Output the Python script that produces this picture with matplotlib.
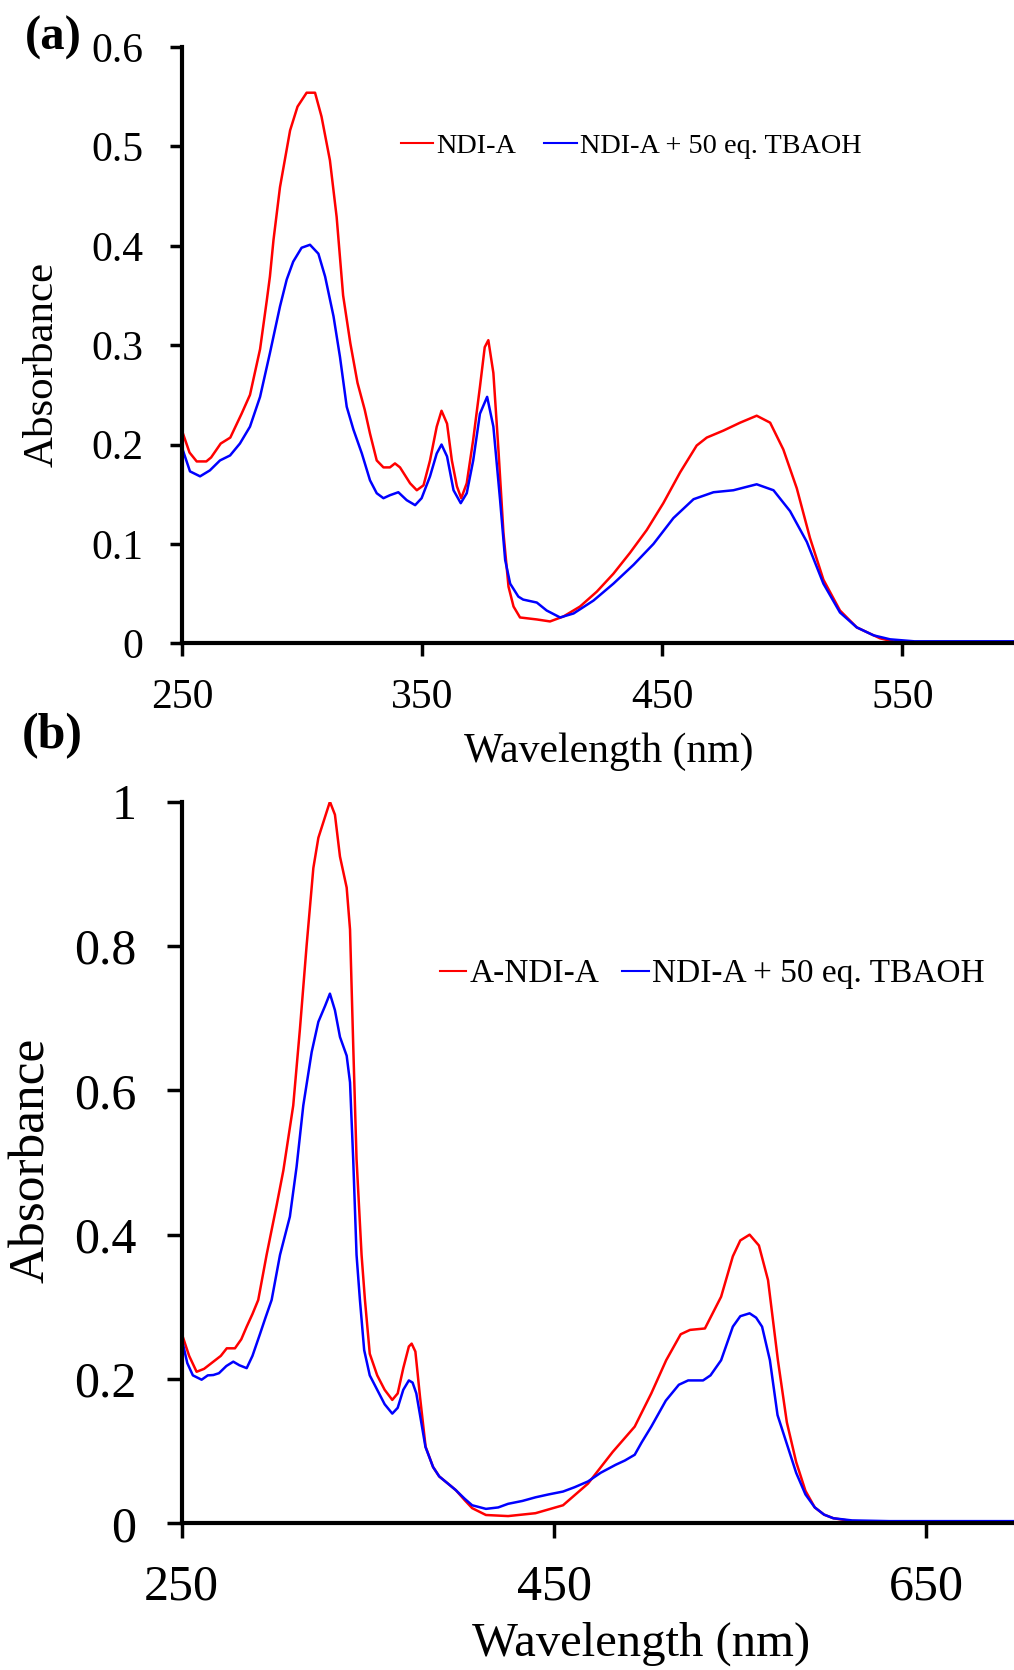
import matplotlib
matplotlib.use('Agg')
import matplotlib.pyplot as plt

plt.rcParams['font.family'] = ['Liberation Serif', 'DejaVu Serif']

# ---- panel (a) : NDI-A ----
wl_a_red = [250, 253, 256, 260, 262, 266, 270, 274.7, 278.2, 282.4, 285.2, 286.5, 288, 290.7,
            294.9, 298, 301.8, 305.3, 308, 311.5, 314.3, 317, 320, 323, 326, 328.2, 331, 333.8,
            336.5, 338.6, 340.7, 344.9, 347.7, 350.5, 353.2, 356, 358, 360.3, 362.3, 364.4,
            366.2, 368.5, 371.2, 374, 376, 377.5, 379.6, 381.7, 383.8, 385.9, 388, 390.7, 397.7,
            403.2, 408.8, 415.7, 422.7, 429.6, 436.5, 443.5, 450.4, 457.4, 464.3, 468.5, 475.4,
            482.4, 489.3, 494.9, 500.4, 506, 511.5, 517.1, 524, 531, 540.7, 547.7, 560, 597]
abs_a_red = [0.213, 0.192, 0.183, 0.183, 0.187, 0.201, 0.207, 0.231, 0.250, 0.296, 0.345, 0.369,
             0.406, 0.459, 0.516, 0.540, 0.554, 0.554, 0.530, 0.486, 0.429, 0.350, 0.302, 0.262,
             0.235, 0.211, 0.184, 0.177, 0.177, 0.181, 0.177, 0.161, 0.154, 0.159, 0.184, 0.218,
             0.234, 0.221, 0.184, 0.158, 0.146, 0.161, 0.205, 0.258, 0.298, 0.305, 0.272, 0.195,
             0.111, 0.057, 0.037, 0.026, 0.024, 0.022, 0.027, 0.037, 0.052, 0.070, 0.091, 0.114,
             0.141, 0.172, 0.199, 0.207, 0.214, 0.222, 0.229, 0.222, 0.195, 0.156, 0.106, 0.064,
             0.033, 0.016, 0.005, 0.001, 0.0, 0.0]

wl_a_blue = [250, 253.2, 257.4, 261.5, 265.7, 269.9, 274, 278.2, 282.4, 286.5, 290.7, 293.5,
             296.2, 299.7, 303.2, 306.7, 309.5, 313, 315.7, 318.5, 321.3, 324.8, 328.2, 331,
             333.8, 336.5, 340, 343.5, 347, 349.7, 353.2, 356, 358, 360.3, 363, 366, 368.5,
             371.2, 374, 377, 379.6, 382.4, 384.5, 386.6, 390, 392, 397.7, 401.8, 407.4, 413,
             421.3, 429.6, 438, 446.3, 454.6, 463, 471.3, 479.6, 489.3, 496.3, 503.2, 510.2,
             517.1, 524, 531, 538, 544.9, 555, 597]
abs_a_blue = [0.196, 0.173, 0.168, 0.174, 0.184, 0.189, 0.201, 0.218, 0.248, 0.292, 0.339, 0.366,
              0.384, 0.398, 0.401, 0.392, 0.369, 0.329, 0.288, 0.238, 0.215, 0.191, 0.164, 0.151,
              0.146, 0.149, 0.152, 0.144, 0.139, 0.146, 0.168, 0.191, 0.200, 0.188, 0.154, 0.141,
              0.151, 0.184, 0.231, 0.248, 0.218, 0.144, 0.084, 0.060, 0.047, 0.044, 0.041, 0.033,
              0.026, 0.030, 0.043, 0.060, 0.079, 0.100, 0.126, 0.145, 0.152, 0.154, 0.160, 0.154,
              0.133, 0.102, 0.060, 0.031, 0.016, 0.008, 0.004, 0.002, 0.002]

# ---- panel (b) : A-NDI-A ----
wl_b_red = [250, 254, 258, 262, 267, 271, 274.2, 278.6, 282, 284.9, 288, 291.1, 295.6, 301,
            304.6, 309.9, 313.5, 317.1, 320.7, 323.4, 326, 329.6, 332.3, 335, 338.6, 340.4,
            342.1, 343.9, 346.6, 348.4, 351, 355, 359, 363.1, 366, 369, 372, 373.5, 375.5, 378,
            381, 385, 388.3, 393, 397.2, 402, 406, 413.4, 425.3, 440, 454.8, 468.2, 481.5, 493.3,
            502.2, 510.2, 518, 523, 531, 539.7, 546, 550, 555, 560, 564.9, 570.2, 575, 580, 585,
            590, 595, 600, 610, 630, 697]
abs_b_red = [0.263, 0.232, 0.210, 0.214, 0.224, 0.232, 0.2425, 0.2425, 0.255, 0.2725, 0.29,
             0.3095, 0.372, 0.441, 0.489, 0.579, 0.685, 0.801, 0.908, 0.950, 0.971, 1.000, 0.982,
             0.924, 0.881, 0.823, 0.664, 0.505, 0.372, 0.310, 0.235, 0.205, 0.185, 0.171, 0.180,
             0.215, 0.245, 0.249, 0.238, 0.175, 0.106, 0.078, 0.065, 0.055, 0.046, 0.032, 0.021,
             0.0115, 0.010, 0.014, 0.025, 0.055, 0.099, 0.134, 0.180, 0.226, 0.262, 0.268, 0.270,
             0.314, 0.370, 0.392, 0.400, 0.385, 0.337, 0.226, 0.140, 0.085, 0.045, 0.022, 0.012,
             0.007, 0.003, 0.002, 0.002]

wl_b_blue = [250, 253, 256, 260.7, 264, 267, 270, 274, 277.7, 281, 284.9, 288, 292, 295, 298.3,
             302.8, 308.1, 311.7, 315.3, 319.8, 323.4, 327, 329.6, 332.3, 335, 338.6, 340.4,
             342.1, 343.9, 345.7, 348, 351, 355, 359, 363.1, 366, 369, 372, 374, 376, 378, 380.9,
             385, 388.3, 393, 397.2, 402, 406, 413.4, 420, 425.3, 433, 440, 447, 454.8, 461,
             468.2, 475, 483, 488, 493.3, 497, 502.2, 510, 517, 522, 530, 534, 539.7, 546, 550,
             555, 558.5, 561.7, 565.9, 570, 575, 580, 585, 590, 595, 600, 610, 630, 697]
abs_b_blue = [0.256, 0.222, 0.205, 0.199, 0.205, 0.2055, 0.208, 0.218, 0.224, 0.219, 0.215,
              0.232, 0.262, 0.285, 0.3095, 0.372, 0.425, 0.494, 0.579, 0.653, 0.695, 0.717,
              0.734, 0.711, 0.674, 0.648, 0.611, 0.505, 0.372, 0.310, 0.240, 0.205, 0.185, 0.165,
              0.152, 0.160, 0.185, 0.198, 0.195, 0.180, 0.150, 0.106, 0.078, 0.065, 0.055, 0.046,
              0.034, 0.025, 0.020, 0.022, 0.027, 0.031, 0.036, 0.040, 0.044, 0.050, 0.058, 0.070,
              0.081, 0.087, 0.095, 0.112, 0.134, 0.170, 0.192, 0.198, 0.198, 0.205, 0.226,
              0.2725, 0.287, 0.291, 0.285, 0.2725, 0.226, 0.150, 0.110, 0.070, 0.040, 0.022,
              0.012, 0.007, 0.004, 0.003, 0.003]

xticks_a = [250, 350, 450, 550]
yticks_a = [0, 0.1, 0.2, 0.3, 0.4, 0.5, 0.6]
ytick_labels_a = ['0', '0.1', '0.2', '0.3', '0.4', '0.5', '0.6']
xticks_b = [250, 450, 650]
yticks_b = [0, 0.2, 0.4, 0.6, 0.8, 1.0]
ytick_labels_b = ['0', '0.2', '0.4', '0.6', '0.8', '1']

legend_a = ['NDI-A', 'NDI-A + 50 eq. TBAOH']
legend_b = ['A-NDI-A', 'NDI-A + 50 eq. TBAOH']

W, H = 1014, 1670


def style_axis(ax, tick_size, tick_len, xpad, ypad):
    for side in ['top', 'right']:
        ax.spines[side].set_visible(False)
    for side in ['left', 'bottom']:
        ax.spines[side].set_linewidth(3)
    ax.tick_params(axis='both', direction='out', length=tick_len, width=2.5,
                   labelsize=tick_size, colors='black')
    ax.tick_params(axis='x', pad=xpad)
    ax.tick_params(axis='y', pad=ypad)


def plot_panel(ax, wl_red, a_red, wl_blue, a_blue, labels, legend_size, leg_pos, hl, htp, cs):
    ax.plot(wl_red, a_red, color='#ff0000', lw=1.8, label=labels[0])
    ax.plot(wl_blue, a_blue, color='#0000ff', lw=1.8, label=labels[1])
    leg = ax.legend(loc='center left', bbox_to_anchor=leg_pos, ncol=2, frameon=False,
                    fontsize=legend_size, borderpad=0, borderaxespad=0,
                    handlelength=hl, handletextpad=htp, columnspacing=cs)
    for line in leg.get_lines():
        line.set_linewidth(1.5)


def main():
    fig = plt.figure(figsize=(W / 100, H / 100), dpi=100)

    # panel (a)
    ax_a = fig.add_axes([182.3 / W, 1 - 643.3 / H, 1 - 182.3 / W, (643.3 - 47) / H])
    plot_panel(ax_a, wl_a_red, abs_a_red, wl_a_blue, abs_a_blue, legend_a, 20.3,
               (0.263, 0.834), 1.15, 0.1, 1.0)
    ax_a.set_xlim(250, 596.5)
    ax_a.set_ylim(0, 0.6)
    ax_a.set_xticks(xticks_a)
    ax_a.set_yticks(yticks_a)
    ax_a.set_yticklabels(ytick_labels_a)
    style_axis(ax_a, 30, 9, 16, 19)

    # panel (b)
    ax_b = fig.add_axes([181.7 / W, 1 - 1523.3 / H, 1 - 181.7 / W, (1523.3 - 801.7) / H])
    plot_panel(ax_b, wl_b_red, abs_b_red, wl_b_blue, abs_b_blue, legend_b, 24,
               (0.310, 0.761), 0.8, 0.1, 0.67)
    ax_b.set_xlim(250, 697)
    ax_b.set_ylim(0, 1)
    ax_b.set_xticks(xticks_b)
    ax_b.set_yticks(yticks_b)
    ax_b.set_yticklabels(ytick_labels_b)
    style_axis(ax_b, 36, 10.5, 18.5, 22)

    # axis titles and panel letters
    fig.text(42.5 / W, 1 - 364 / H, 'Absorbance', rotation=90, fontsize=31,
             ha='center', va='center')
    fig.text(609 / W, 1 - 752 / H, 'Wavelength (nm)', fontsize=30, ha='center', va='center')
    fig.text(31.5 / W, 1 - 1160 / H, 'Absorbance', rotation=90, fontsize=37,
             ha='center', va='center')
    fig.text(641 / W, 1 - 1644 / H, 'Wavelength (nm)', fontsize=35, ha='center', va='center')
    fig.text(53 / W, 1 - 38 / H, '(a)', fontsize=35, fontweight='bold', ha='center', va='center')
    fig.text(52 / W, 1 - 736 / H, '(b)', fontsize=36, fontweight='bold', ha='center', va='center')

    fig.savefig('out.png', dpi=100)


if __name__ == "__main__":
    main()
